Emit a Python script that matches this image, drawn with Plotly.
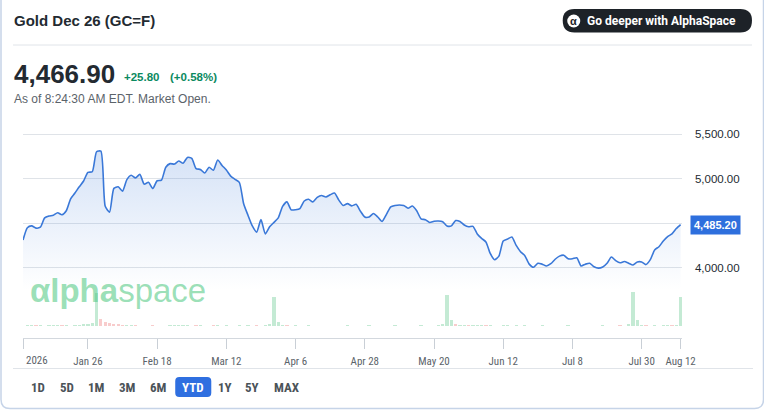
import plotly.graph_objects as go

# daily closes, trading days since Jan 2 2026
close = [
    4311, 4450, 4470, 4445, 4455, 4560, 4581, 4590, 4618, 4595,
    4640, 4775, 4840, 4910, 4975, 5072, 5079, 5304, 5310, 4690,
    4625, 4892, 4910, 4860, 4990, 5040, 5010, 5050, 4940, 4960,
    4890, 4978, 4985, 5130, 5170, 5165, 5200, 5175, 5240, 5230,
    5115, 5105, 5065, 5130, 5095, 5210, 5150, 5098, 5030, 4994,
    4960, 4720, 4590, 4470, 4400, 4540, 4380, 4460, 4510, 4560,
    4690, 4740, 4650, 4652, 4665, 4750, 4770, 4740, 4790, 4812,
    4795, 4820, 4840, 4760, 4700, 4720, 4695, 4712, 4635, 4570,
    4570, 4610, 4570, 4520, 4600, 4685, 4700, 4705, 4700, 4668,
    4693, 4640, 4550, 4540, 4508, 4522, 4525, 4517, 4470, 4470,
    4530, 4520, 4480, 4460, 4465, 4380, 4330, 4290, 4160, 4090,
    4130, 4300, 4322, 4345, 4250, 4180, 4135, 4040, 4005, 4050,
    4040, 4019, 4045, 4095, 4130, 4140, 4100, 4100, 4112, 4020,
    4040, 4050, 4010, 3995, 4008, 4050, 4120, 4080, 4055, 4070,
    4050, 4030, 4065, 4065, 4035, 4090, 4200, 4236, 4300, 4350,
    4380, 4440, 4485.2,
]
days = list(range(len(close)))

# volume (thousands), only days with a visible bar
vol_days = [1, 2, 3, 4, 6, 7, 8, 9, 10, 12, 13, 14, 15, 16, 17, 18, 19, 20, 21, 22,
            23, 24, 25, 26, 30, 34, 35, 36, 37, 38, 40, 41, 44, 45, 47, 50, 52, 54, 56, 57,
            58, 59, 60, 61, 63, 66, 70, 75, 80, 86, 92, 96, 97, 98, 99, 100, 101, 102, 103, 104,
            105, 106, 107, 108, 111, 112, 114, 116, 120, 126, 134, 138, 140, 141, 142, 143, 144, 146, 148, 149,
            150, 151, 152]
vol = [6, 4, 8, 5, 7, 5, 6, 4, 5, 6, 8, 10, 12, 18, 198, 42, 22, 18, 15, 10,
       8, 6, 5, 4, 4, 5, 6, 5, 4, 6, 5, 4, 5, 6, 4, 5, 6, 4, 8, 10,
       174, 24, 8, 5, 4, 4, 3, 5, 4, 5, 6, 8, 12, 186, 36, 10, 8, 6, 7, 6,
       5, 6, 5, 4, 5, 4, 4, 4, 5, 4, 4, 5, 10, 206, 36, 8, 6, 5, 6, 7,
       6, 8, 172]
red_days = [3, 9, 18, 19, 20, 21, 22, 23, 26, 30, 40, 44, 54, 61, 100, 103, 107, 138, 144, 150]

tick_days = [0, 15, 31, 47, 63, 79, 95, 111, 127, 143, 152]
tick_text = ["", "Jan 26", "Feb 18", "Mar 12", "Apr 6", "Apr 28", "May 20",
             "Jun 12", "Jul 8", "Jul 30", "Aug 12"]
price_ticks = [4000, 4500, 5000, 5500]
price_text = ["4,000.00", "", "5,000.00", "5,500.00"]  # 4,500 sits under the last-price tag
ranges = ["1D", "5D", "1M", "3M", "6M", "YTD", "1Y", "5Y", "MAX"]

W, H = 764, 410
def px(x):
    return x / W
def py(y):
    return 1 - y / H

def rrect(x0, y0, x1, y1, r):
    pts = [
        "M", px(x0 + r), py(y0), "L", px(x1 - r), py(y0),
        "Q", px(x1), py(y0), px(x1), py(y0 + r),
        "L", px(x1), py(y1 - r),
        "Q", px(x1), py(y1), px(x1 - r), py(y1),
        "L", px(x0 + r), py(y1),
        "Q", px(x0), py(y1), px(x0), py(y1 - r),
        "L", px(x0), py(y0 + r),
        "Q", px(x0), py(y0), px(x0 + r), py(y0), "Z",
    ]
    out = ""
    for p in pts:
        out += (p + " ") if isinstance(p, str) else "%.5f " % p
    return out

LINE = "#3a78d8"
TXT = "#232a31"
GREY = "#5b636a"
NARROW = "Liberation Sans Narrow, Roboto Condensed, Arial Narrow, Roboto, sans-serif"
SANS = "Liberation Sans, Arial, sans-serif"

fig = go.Figure()

fig.add_trace(go.Scatter(
    x=days, y=close, mode="lines",
    line=dict(color=LINE, width=1.6, shape="spline", smoothing=0.6),
    fill="tozeroy",
    fillgradient=dict(type="vertical", start=3750, stop=5350,
                      colorscale=[[0, "rgba(58,120,216,0)"], [1, "rgba(58,120,216,0.22)"]]),
    hoverinfo="skip",
))

bar_cols = ["rgba(235,110,110,0.35)" if d in red_days else "rgba(70,190,120,0.32)" for d in vol_days]
fig.add_trace(go.Bar(x=vol_days, y=vol, yaxis="y2", marker=dict(color=bar_cols, line_width=0),
                     width=0.75, hoverinfo="skip"))

fig.update_layout(
    width=779, height=H, autosize=False, margin=dict(l=0, r=0, t=0, b=0),
    paper_bgcolor="white", plot_bgcolor="rgba(0,0,0,0)",
    showlegend=False, bargap=0,
    xaxis=dict(domain=[px(23), px(681)], range=[0, 152.3], showgrid=False, zeroline=False,
               showline=True, linecolor="#d3d8de", linewidth=1,
               ticks="outside", ticklen=10, tickcolor="#c9cfd6",
               tickvals=tick_days, ticktext=tick_text, ticklabelstandoff=3,
               tickfont=dict(family=NARROW, size=11, color=GREY)),
    yaxis=dict(domain=[py(338), py(125)], range=[3209.5, 5604.5], side="right",
               tickvals=price_ticks, ticktext=price_text, showgrid=True, gridcolor="#dfe3e8",
               zeroline=False, ticks="", ticklabelstandoff=12,
               tickfont=dict(family=SANS, size=11.5, color=TXT)),
    yaxis2=dict(domain=[py(326), py(286)], range=[0, 240], anchor="x",
                showgrid=False, zeroline=False, showticklabels=False, ticks=""),
)

shapes = [
    dict(type="path", xref="paper", yref="paper", path=rrect(1, -20, 762.5, 408.5, 9),
         line=dict(color="#c6d4e8", width=1.5), fillcolor="rgba(0,0,0,0)"),
    dict(type="line", xref="paper", yref="paper", x0=px(13), x1=px(751), y0=py(45), y1=py(45),
         line=dict(color="#e0e4e9", width=1)),
    dict(type="line", xref="paper", yref="paper", x0=px(13), x1=px(752), y0=py(368.5), y1=py(368.5),
         line=dict(color="#e0e4e9", width=1)),
    dict(type="path", xref="paper", yref="paper", path=rrect(562, 9, 751, 32.5, 11.7),
         line=dict(width=0), fillcolor="#1d2228"),
    dict(type="circle", xref="paper", yref="paper", x0=px(566.5), x1=px(579.5), y0=py(14.5), y1=py(27.5),
         line=dict(width=0), fillcolor="white"),
    dict(type="path", xref="paper", yref="paper", path=rrect(175, 377, 211, 397, 4),
         line=dict(width=0), fillcolor="#2f6fe0", layer="below"),
]
fig.update_layout(shapes=shapes)

ann = [
    dict(text="Gold Dec 26 (GC=F)", x=px(12), y=py(20), font=dict(family=SANS, size=15, color=TXT, weight=600)),
    dict(text="4,466.90", x=px(12), y=py(74), font=dict(family=SANS, size=26, color=TXT, weight="bold")),
    dict(text="+25.80", x=px(122), y=py(77), font=dict(family=SANS, size=11.5, color="#0b8a5f", weight="bold")),
    dict(text="(+0.58%)", x=px(168), y=py(77), font=dict(family=SANS, size=11.5, color="#0b8a5f", weight="bold")),
    dict(text="As of 8:24:30 AM EDT. Market Open.", x=px(12), y=py(99), font=dict(family=SANS, size=12, color=GREY)),
    dict(text="Go deeper with AlphaSpace", x=px(584), y=py(21),
         font=dict(family="Roboto, sans-serif", size=12, color="white", weight="bold")),
    dict(text="<b>αlpha</b>space", x=px(28), y=py(290),
         font=dict(family=SANS, size=33, color="rgba(80,200,130,0.58)")),
    dict(text="2026", x=px(24), y=py(360), font=dict(family=NARROW, size=11, color=GREY)),
]
for a in ann:
    fig.add_annotation(xref="paper", yref="paper", xanchor="left", yanchor="middle",
                       showarrow=False, **a)

fig.add_annotation(text="α", xref="paper", yref="paper", x=px(573), y=py(20.5), showarrow=False,
                   xanchor="center", yanchor="middle",
                   font=dict(family=SANS, size=11, color="#1d2228", weight="bold"))

btn_x = [38, 67, 96, 127, 158, 193, 225, 252, 287]
for lab, bx in zip(ranges, btn_x):
    fig.add_annotation(text=lab, xref="paper", yref="paper", x=px(bx), y=py(387), showarrow=False,
                       xanchor="center", yanchor="middle",
                       font=dict(family=NARROW, size=13, weight="bold",
                                 color="white" if lab == "YTD" else "#4b5359"))

fig.add_annotation(text="<b>4,485.20</b>", xref="paper", yref="y", x=px(714.5), y=close[-1],
                   xanchor="center", yanchor="middle",
                   showarrow=False, bgcolor="#2e6fdd", borderpad=3,
                   font=dict(family=SANS, size=11, color="white"))

fig.write_html("out.html",
               config={"responsive": False, "displayModeBar": False},
               post_script="document.body.style.margin='0px';document.body.style.overflow='hidden';")
